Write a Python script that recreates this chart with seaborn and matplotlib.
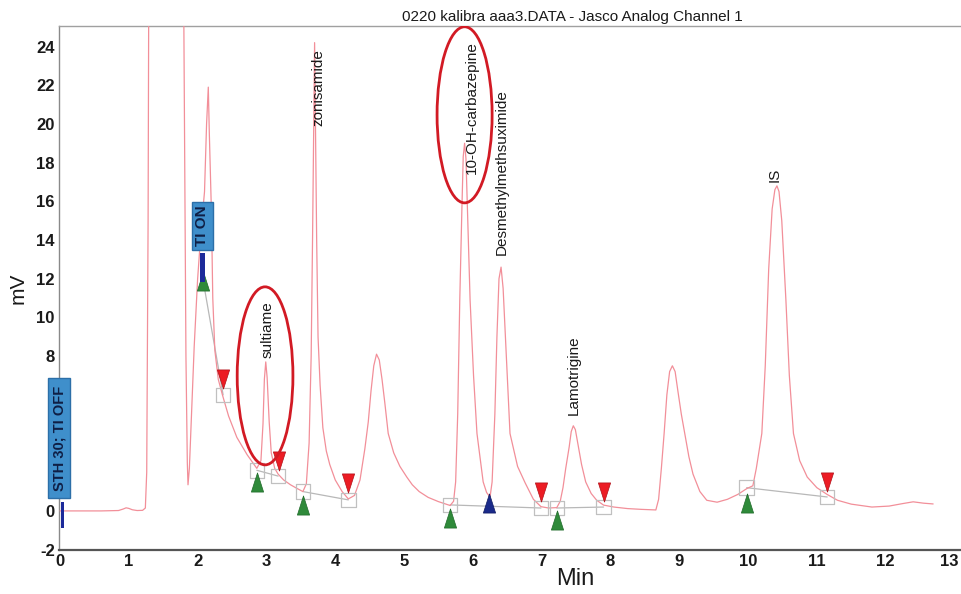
import matplotlib
matplotlib.use("Agg")
import matplotlib.pyplot as plt
from matplotlib.patches import Ellipse, Rectangle
from matplotlib.path import Path
import matplotlib.transforms as mtransforms
import seaborn as sns
import pandas as pd

# ---------------- data ----------------
time_min = [0.0, 0.3, 0.6, 0.85, 0.92, 0.96, 1.0, 1.05, 1.12, 1.2, 1.24, 1.26, 1.28, 1.30, 1.32,
            1.76, 1.78, 1.80, 1.83, 1.85, 1.86, 1.88, 1.90, 1.95, 2.00, 2.05, 2.10, 2.13, 2.155,
            2.17, 2.20, 2.22, 2.25, 2.30, 2.36, 2.45, 2.57, 2.72, 2.86, 2.92, 2.95, 2.97, 2.99,
            3.01, 3.04, 3.07, 3.12, 3.17, 3.25, 3.35, 3.45, 3.53, 3.58, 3.62, 3.65, 3.67, 3.70,
            3.73, 3.75, 3.78, 3.82, 3.87, 3.92, 4.00, 4.10, 4.19, 4.28, 4.36, 4.43, 4.48, 4.52,
            4.56, 4.60, 4.64, 4.68, 4.72, 4.77, 4.85, 4.94, 5.04, 5.12, 5.22, 5.35, 5.50, 5.67,
            5.72, 5.75, 5.78, 5.81, 5.84, 5.86, 5.88, 5.90, 5.93, 5.96, 6.01, 6.06, 6.15, 6.20,
            6.25, 6.28, 6.32, 6.35, 6.38, 6.41, 6.44, 6.47, 6.50, 6.54, 6.65, 6.76, 6.88, 6.99,
            7.10, 7.22, 7.27, 7.31, 7.35, 7.40, 7.43, 7.46, 7.49, 7.53, 7.58, 7.64, 7.72, 7.80,
            7.90, 8.05, 8.25, 8.45, 8.66, 8.70, 8.74, 8.78, 8.82, 8.86, 8.90, 8.94, 8.98, 9.03,
            9.08, 9.14, 9.20, 9.30, 9.40, 9.55, 9.70, 9.85, 9.98, 10.07, 10.12, 10.20, 10.25,
            10.30, 10.35, 10.39, 10.42, 10.45, 10.49, 10.52, 10.55, 10.60, 10.66, 10.75, 10.86,
            11.00, 11.15, 11.30, 11.50, 11.80, 12.05, 12.25, 12.40, 12.55, 12.69]
signal_mv = [0.0, 0.0, 0.0, 0.02, 0.10, 0.16, 0.13, 0.06, 0.02, 0.03, 0.15, 2.0, 15.0, 40.0, 80.0,
             80.0, 40.0, 25.0, 8.0, 2.5, 1.35, 2.2, 4.0, 8.5, 12.0, 14.5, 16.5, 20.0, 21.9,
             19.5, 15.5, 11.0, 8.3, 6.8, 6.0, 4.9, 3.8, 2.9, 2.2, 2.6, 4.5, 6.8, 7.7,
             6.9, 4.6, 3.0, 2.2, 1.9, 1.6, 1.35, 1.15, 1.0, 1.4, 3.5, 8.0, 14.0, 24.2,
             14.0, 9.0, 6.5, 4.3, 3.1, 2.4, 1.6, 1.0, 0.62, 0.8, 1.6, 3.2, 4.6, 6.2,
             7.5, 8.1, 7.8, 6.8, 5.6, 4.0, 3.0, 2.3, 1.75, 1.35, 1.0, 0.7, 0.48, 0.28,
             0.5, 1.5, 5.0, 10.9, 15.5, 18.3, 19.0, 18.2, 14.5, 10.9, 7.0, 4.0, 1.5, 0.95,
             0.72, 1.5, 5.0, 9.0, 12.0, 12.6, 11.5, 9.2, 7.0, 4.0, 2.3, 1.45, 0.6, 0.22,
             0.15, 0.17, 0.5, 1.2, 2.2, 3.3, 4.1, 4.4, 4.2, 3.4, 2.4, 1.5, 0.9, 0.55,
             0.3, 0.2, 0.12, 0.08, 0.05, 0.6, 2.2, 4.0, 6.0, 7.2, 7.5, 7.2, 6.2, 5.0,
             4.0, 2.8, 1.9, 1.0, 0.55, 0.45, 0.6, 0.85, 1.15, 1.3, 2.2, 4.0, 7.5,
             12.5, 15.6, 16.6, 16.8, 16.5, 15.0, 13.0, 10.9, 7.0, 4.0, 2.6, 1.75,
             1.2, 0.85, 0.55, 0.35, 0.2, 0.25, 0.38, 0.47, 0.4, 0.36]

peak_names = ["sultiame", "zonisamide", "10-OH-carbazepine", "Desmethylmethsuximide", "Lamotrigine", "IS"]
peak_label_t = [3.02, 3.75, 5.99, 6.42, 7.46, 10.39]
peak_label_mv = [7.9, 19.9, 17.4, 13.2, 4.96, 17.0]

start_t = [2.08, 2.87, 3.53, 5.67, 7.22, 9.98]
start_mv = [11.9, 1.5, 0.3, -0.36, -0.47, 0.4]
end_t = [2.37, 3.18, 4.19, 6.99, 7.90, 11.15]
end_mv = [6.8, 2.6, 1.45, 1.0, 1.0, 1.5]
split_t = [6.24]
split_mv = [0.4]
box_t = [2.37, 2.86, 3.17, 3.53, 4.19, 5.67, 6.99, 7.22, 7.90, 9.98, 11.15]
box_mv = [6.0, 2.1, 1.8, 1.0, 0.57, 0.31, 0.15, 0.15, 0.2, 1.2, 0.72]
base_t0 = [2.08, 2.86, 3.53, 5.67, 7.22, 9.98]
base_mv0 = [11.9, 2.1, 1.0, 0.31, 0.15, 1.2]
base_t1 = [2.37, 3.17, 4.19, 6.99, 7.90, 11.15]
base_mv1 = [6.0, 1.8, 0.57, 0.15, 0.2, 0.72]

x_ticks = list(range(0, 14))
y_ticks = list(range(-2, 25, 2))
# y tick labels 2, 4, 6 are covered by the "STH 30; TI OFF" event box in the original
y_tick_labels = ["-2", "0", "", "", "", "8", "10", "12", "14", "16", "18", "20", "22", "24"]

title = "0220 kalibra aaa3.DATA - Jasco Analog Channel 1"

# ---------------- figure ----------------
sns.set_theme(style="white")
plt.rcParams["font.family"] = ["Liberation Sans", "DejaVu Sans"]

fig = plt.figure(figsize=(9.61, 5.94), dpi=100)
ax = fig.add_axes([59 / 961, 1 - 550 / 594, (961 - 59) / 961, (550 - 26) / 594])

df = pd.DataFrame({"t": time_min, "mv": signal_mv})
sns.lineplot(data=df, x="t", y="mv", ax=ax, color="#f28f99", lw=0.9,
             sort=False, estimator=None, zorder=3)

# integration baselines
for a, b, c, d in zip(base_t0, base_mv0, base_t1, base_mv1):
    ax.plot([a, c], [b, d], color="#b8b8b8", lw=0.9, zorder=2)

tri_up = Path([(-0.32, -0.5), (0.32, -0.5), (0.0, 0.5), (-0.32, -0.5)],
              [Path.MOVETO, Path.LINETO, Path.LINETO, Path.CLOSEPOLY])
tri_down = Path([(-0.32, 0.5), (0.32, 0.5), (0.0, -0.5), (-0.32, 0.5)],
                [Path.MOVETO, Path.LINETO, Path.LINETO, Path.CLOSEPOLY])

# hollow squares
sns.scatterplot(x=box_t, y=box_mv, ax=ax, marker="s", s=110, facecolor="none",
                edgecolor="#c0c0c0", linewidth=0.9, zorder=4)
# peak start / end markers
sns.scatterplot(x=start_t, y=start_mv, ax=ax, marker=tri_up, s=190, color="#2f8a3a",
                edgecolor="#1f6a2a", linewidth=0.5, zorder=5)
sns.scatterplot(x=end_t, y=end_mv, ax=ax, marker=tri_down, s=190, color="#ec1c24",
                edgecolor="#b01018", linewidth=0.5, zorder=5)
sns.scatterplot(x=split_t, y=split_mv, ax=ax, marker=tri_up, s=190, color="#1a2a8a",
                edgecolor="#101a60", linewidth=0.5, zorder=5)

# peak labels
for name, t, mv in zip(peak_names, peak_label_t, peak_label_mv):
    ax.text(t, mv, name, rotation=90, ha="center", va="bottom", fontsize=11,
            color="#1a1a1a", zorder=6)

# red hand-drawn ellipses
ax.add_patch(Ellipse((2.98, 6.98), 0.81, 9.2, fill=False, edgecolor="#d21a24", lw=2.0, zorder=6))
ax.add_patch(Ellipse((5.88, 20.47), 0.80, 9.1, fill=False, edgecolor="#d21a24", lw=2.0, zorder=6))

# event boxes
ax.add_patch(Rectangle((-0.17, 0.67), 0.32, 6.2, facecolor="#3f8fcb", edgecolor="#2c6fa8",
                       lw=1, clip_on=False, zorder=6))
ax.text(-0.01, 3.77, "STH 30; TI OFF", rotation=90, ha="center", va="center", fontsize=10.5,
        color="#0f1f45", fontweight="bold", clip_on=False, zorder=7)
ax.add_patch(Rectangle((0.01, -0.88), 0.05, 1.35, facecolor="#1c2a9a", edgecolor="none",
                       clip_on=False, zorder=6))
ax.add_patch(Rectangle((1.92, 13.49), 0.30, 2.48, facecolor="#3f8fcb", edgecolor="#2c6fa8",
                       lw=1, zorder=6))
ax.text(2.07, 14.73, "TI ON", rotation=90, ha="center", va="center", fontsize=11,
        color="#0f1f45", fontweight="bold", zorder=7)
ax.add_patch(Rectangle((2.03, 11.83), 0.07, 1.5, facecolor="#1c2a9a", edgecolor="none", zorder=6))

# axes styling
ax.set_xlim(-0.015, 13.095)
ax.set_ylim(-2.02, 25.06)
ax.set_xticks(x_ticks)
ax.set_yticks(y_ticks)
ax.set_xticklabels([str(v) for v in x_ticks], fontsize=12, color="#1a1a1a", fontweight="bold")
ax.set_yticklabels(y_tick_labels, fontsize=12, color="#1a1a1a", fontweight="bold")
ax.tick_params(axis="both", length=0, pad=3)
# keep the last x tick label inside the figure
last = ax.get_xticklabels()[-1]
last.set_transform(last.get_transform() + mtransforms.ScaledTranslation(-5 / 100, 0, fig.dpi_scale_trans))

ax.set_xlabel("Min", fontsize=17, color="#1a1a1a")
ax.xaxis.set_label_coords(0.572, -0.035, transform=ax.transAxes)
ax.xaxis.label.set_va("top")
ax.set_ylabel("mV", fontsize=15, color="#1a1a1a", labelpad=6)
ax.spines["right"].set_visible(False)
ax.spines["left"].set_color("#8a8a8a")
ax.spines["left"].set_linewidth(1.0)
ax.spines["top"].set_color("#a0a0a0")
ax.spines["top"].set_linewidth(1.0)
ax.spines["bottom"].set_color("#555555")
ax.spines["bottom"].set_linewidth(1.6)
ax.grid(False)

fig.text(572 / 961, 1 - 17 / 594, title, ha="center", va="center", fontsize=11, color="#1a1a1a")

fig.savefig("out.png", dpi=100)
